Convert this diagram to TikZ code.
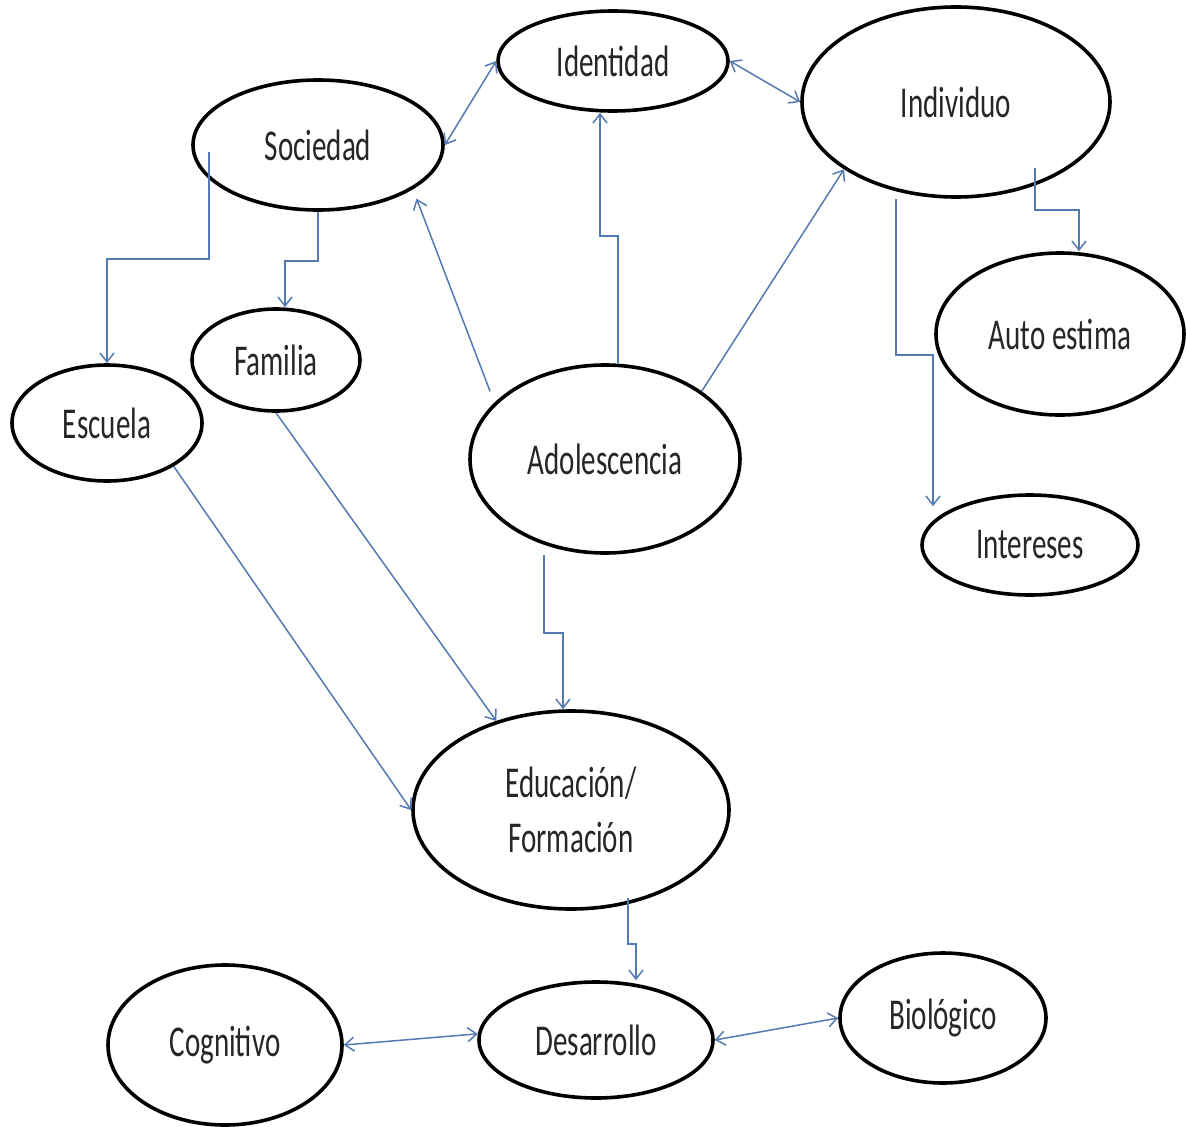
\documentclass[tikz,border=0pt]{standalone}
\usepackage{fontspec}
\newfontfamily\lab[FakeStretch=0.66]{Carlito}
\usetikzlibrary{shapes.geometric,arrows.meta}
\definecolor{conn}{RGB}{84,122,178}
\begin{document}
\begin{tikzpicture}[x=1pt,y=-1pt,
  bub/.style={ellipse,draw=black,line width=3.6pt,inner sep=0pt,
    font=\lab\fontsize{44}{55}\selectfont,text=black!85,align=center},
  link/.style={draw=conn,line width=1.5pt,-{Straight Barb[length=9pt,width=14pt]}},
  bilink/.style={draw=conn,line width=1.5pt,
    {Straight Barb[length=9pt,width=14pt]}-{Straight Barb[length=9pt,width=14pt]}}]
\fill[white] (0,0) rectangle (1186,1127);
\useasboundingbox (0,0) rectangle (1186,1127);

\node[bub,minimum width=250pt,minimum height=130pt] (soc) at (318,145) {Sociedad};
\node[bub,minimum width=230pt,minimum height=100pt] (ide) at (613,61) {Identidad};
\node[bub,minimum width=308pt,minimum height=190pt] (ind) at (956,102) {Individuo};
\node[bub,minimum width=248pt,minimum height=162pt] (aut) at (1060,334) {Auto estima};
\node[bub,minimum width=216pt,minimum height=100pt] (int) at (1030,545) {Intereses};
\node[bub,minimum width=190pt,minimum height=116pt] (esc) at (107,423) {Escuela};
\node[bub,minimum width=168pt,minimum height=102pt] (fam) at (276,360) {Familia};
\node[bub,minimum width=270pt,minimum height=188pt] (ado) at (605,459) {Adolescencia};
\node[bub,minimum width=316pt,minimum height=198pt] (edu) at (571,810) {Educación/\\Formación};
\node[bub,minimum width=234pt,minimum height=160pt] (cog) at (225,1045) {Cognitivo};
\node[bub,minimum width=234pt,minimum height=116pt] (des) at (596,1040) {Desarrollo};
\node[bub,minimum width=206pt,minimum height=130pt] (bio) at (943,1018) {Biológico};

% bidirectional links
\draw[bilink] (soc.east) -- (ide.west);
\draw[bilink] (ide.east) -- (ind.west);
\draw[bilink] (cog.east) -- (des.177);
\draw[bilink] (des.east) -- (bio.west);

% straight links
\draw[link,shorten <=12pt,shorten >=10pt] (ado.153) -- (soc.-25);
\draw[link] (ado.35) -- (ind.211);
\draw[link] (esc.-33) -- (edu.west);
\draw[link] (fam.south) -- (edu.130);

% elbow links
\draw[link] ([xshift=13pt]ado.north) -- ++(0,-127) -| ([xshift=-13pt]ide.south);
\draw[link] ([xshift=-109pt,yshift=-7pt]soc.center) -- ++(0,107) -| (esc.north);
\draw[link] (soc.south) -- ++(0,49) -| ([xshift=9pt]fam.north);
\draw[link] ([xshift=79pt,yshift=-66pt]ind.center) -- ++(0,42) -| ([xshift=19pt]aut.north);
\draw[link] ([xshift=-60pt]ind.south) -- ++(0,156) -| ([xshift=-97pt,yshift=-13pt]int.north);
\draw[link] ([xshift=-61pt]ado.south) -- ++(0,78) -| ([xshift=-8pt]edu.north);
\draw[link] ([xshift=57pt,yshift=-88pt]edu.center) -- ++(0,46) -| ([xshift=40pt]des.north);
\end{tikzpicture}
\end{document}
